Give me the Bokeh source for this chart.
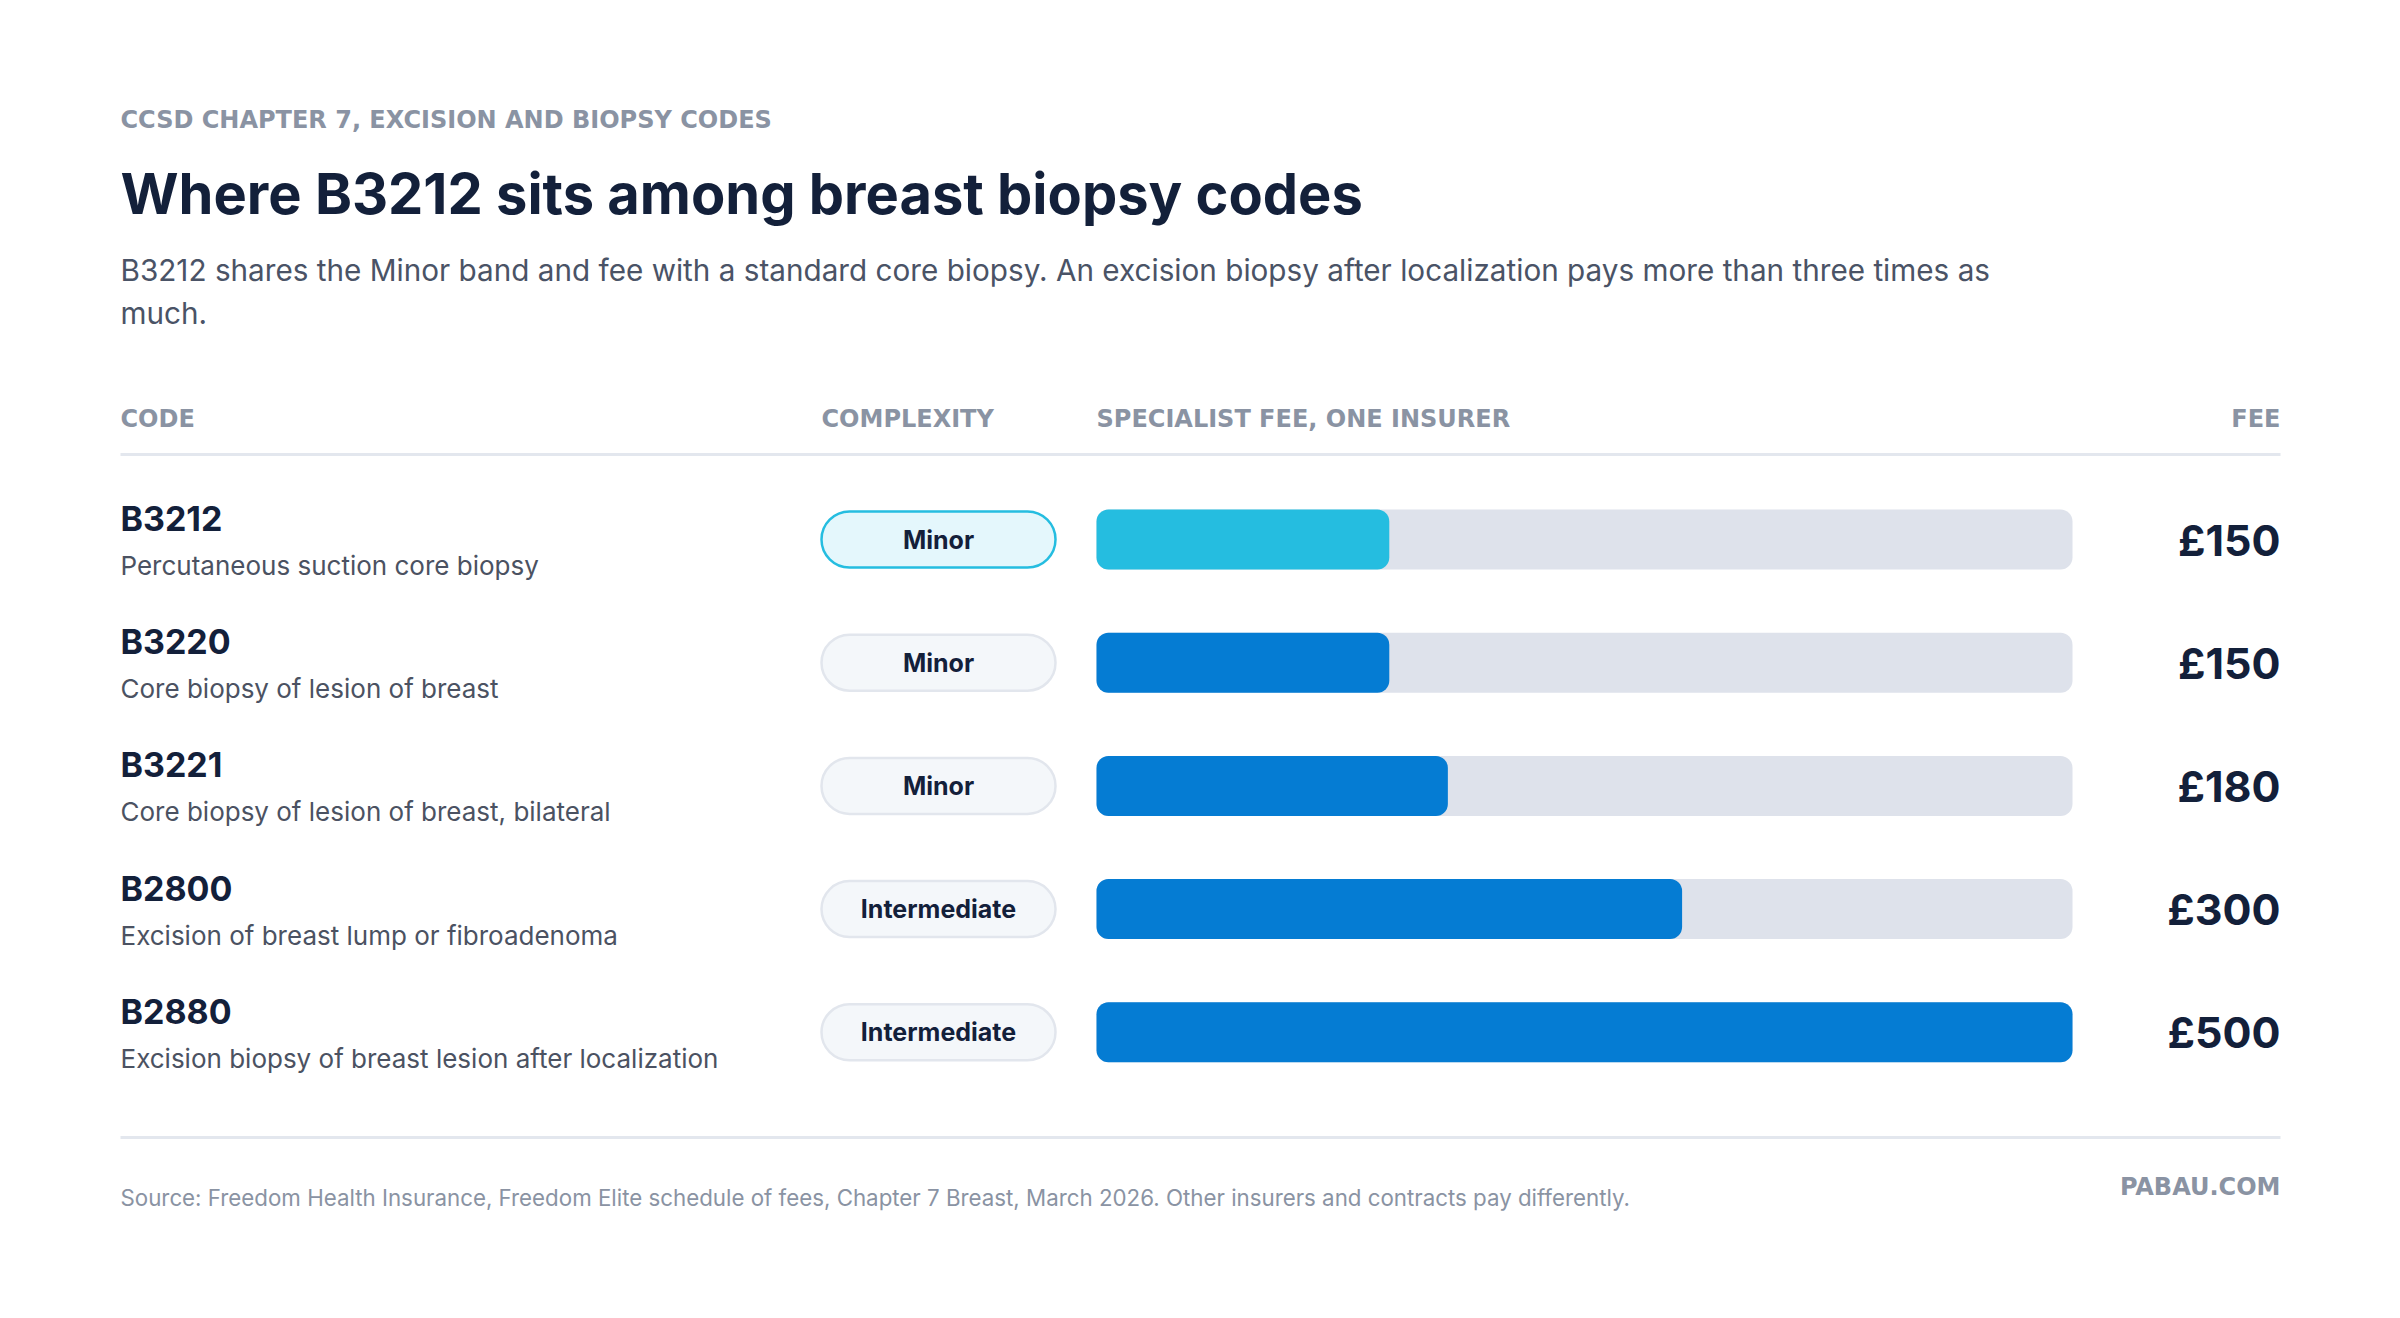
from bokeh.plotting import figure
from bokeh.models import ColumnDataSource, Range1d
from bokeh.core.properties import value
from bokeh.embed import file_html
from bokeh.resources import INLINE

# data
codes = ["B3212", "B3220", "B3221", "B2800", "B2880"]
descriptions = ["Percutaneous suction core biopsy", "Core biopsy of lesion of breast",
                "Core biopsy of lesion of breast, bilateral", "Excision of breast lump or fibroadenoma",
                "Excision biopsy of breast lesion after localization"]
bands = ["Minor", "Minor", "Minor", "Intermediate", "Intermediate"]
fees = [150, 150, 180, 300, 500]
highlight = "B3212"

eyebrow = "CCSD CHAPTER 7, EXCISION AND BIOPSY CODES"
title = "Where B3212 sits among breast biopsy codes"
subtitle = ["B3212 shares the Minor band and fee with a standard core biopsy. An excision biopsy after localization pays more than three times as",
            "much."]
headers = ["CODE", "COMPLEXITY", "SPECIALIST FEE, ONE INSURER", "FEE"]
source_note = "Source: Freedom Health Insurance, Freedom Elite schedule of fees, Chapter 7 Breast, March 2026. Other insurers and contracts pay differently."
brand = "PABAU.COM"

FONT = value("Inter")
CAPS = value("DejaVu Sans")
NAVY = "#13203a"
GREY = "#8a93a3"
CYAN = "#25bde0"
BLUE = "#057cd3"
TRACK = "#dee2eb"
RULE = "#e3e7ee"

W, H = 2384, 1302
LEFT, RIGHT = 120, 2280
PILL_L, PILL_R = 821, 1055
TRACK_L, TRACK_R = 1096, 2072
ROW0, ROW_STEP = 539, 123.2

# screen pixel coordinates, y grows downward
p = figure(width=W, height=H, x_range=Range1d(0, W), y_range=Range1d(H, 0),
           output_backend="svg", toolbar_location=None, min_border=0)
p.axis.visible = False
p.grid.visible = False
p.outline_line_color = None
p.background_fill_color = "white"
p.border_fill_color = "white"

# fee scale: 0 at track left, max fee at track right
fmax = max(fees)
k = fmax / (TRACK_R - TRACK_L)
p.extra_x_ranges = {"fee": Range1d(-TRACK_L * k, (W - TRACK_L) * k)}

n = len(codes)
rows = ColumnDataSource(dict(
    y=[ROW0 + i * ROW_STEP for i in range(n)],
    y_code=[ROW0 - 21 + i * ROW_STEP for i in range(n)],
    y_desc=[ROW0 + 26 + i * ROW_STEP for i in range(n)],
    code=codes, desc=descriptions, band=bands, fee=fees,
    fee_label=["£%d" % f for f in fees],
    zero=[0] * n, fmax=[fmax] * n,
    bar_color=[CYAN if c == highlight else BLUE for c in codes],
    pill_fill=["#e4f7fc" if c == highlight else "#f4f7fa" for c in codes],
    pill_line=[CYAN if c == highlight else "#e2e6ed" for c in codes],
))

# heading block
p.text(x=[LEFT], y=[119], text=[eyebrow], text_font=CAPS, text_font_size="24px",
       text_font_style="bold", text_color=GREY, text_baseline="middle")
p.text(x=[LEFT], y=[193], text=[title], text_font=FONT, text_font_size="56px",
       text_font_style="bold", text_color=NAVY, text_baseline="middle")
p.text(x=[LEFT, LEFT], y=[269, 312], text=subtitle, text_font=FONT, text_font_size="29.7px",
       text_color="#4a5366", text_baseline="middle")

# column headers
p.text(x=[LEFT, PILL_L, TRACK_L], y=[418] * 3, text=headers[:3], text_font=CAPS,
       text_font_size="24px", text_font_style="bold", text_color=GREY, text_baseline="middle")
p.text(x=[RIGHT], y=[418], text=headers[3:], text_font=CAPS, text_font_size="24px",
       text_font_style="bold", text_color=GREY, text_baseline="middle", text_align="right")
p.segment(x0=[LEFT, LEFT], x1=[RIGHT, RIGHT], y0=[454, 1137], y1=[454, 1137],
          line_color=RULE, line_width=3)

# rows
p.text(x=LEFT, y="y_code", text="code", source=rows, text_font=FONT, text_font_size="34px",
       text_font_style="bold", text_color=NAVY, text_baseline="middle")
p.text(x=LEFT, y="y_desc", text="desc", source=rows, text_font=FONT, text_font_size="26px",
       text_color="#4b5262", text_baseline="middle")

p.hbar(y="y", left=PILL_L, right=PILL_R, height=56, source=rows, fill_color="pill_fill",
       line_color="pill_line", line_width=2.5, border_radius=28)
p.text(x=(PILL_L + PILL_R) / 2, y="y", text="band", source=rows, text_font=FONT,
       text_font_size="25px", text_font_style="bold", text_color=NAVY,
       text_baseline="middle", text_align="center")

p.hbar(y="y", left="zero", right="fmax", height=60, source=rows, x_range_name="fee",
       fill_color=TRACK, line_color=None, border_radius=12)
p.hbar(y="y", left="zero", right="fee", height=60, source=rows, x_range_name="fee",
       fill_color="bar_color", line_color=None, border_radius=12)

p.text(x=RIGHT, y="y", text="fee_label", source=rows, text_font=FONT, text_font_size="43px",
       text_font_style="bold", text_color=NAVY, text_baseline="middle", text_align="right")

# footer
p.text(x=[LEFT], y=[1197], text=[source_note], text_font=FONT, text_font_size="22.3px",
       text_color=GREY, text_baseline="middle")
p.text(x=[RIGHT], y=[1186], text=[brand], text_font=CAPS, text_font_size="24px",
       text_font_style="bold", text_color=GREY, text_baseline="middle", text_align="right")

open("out.html", "w").write(file_html(p, INLINE))
